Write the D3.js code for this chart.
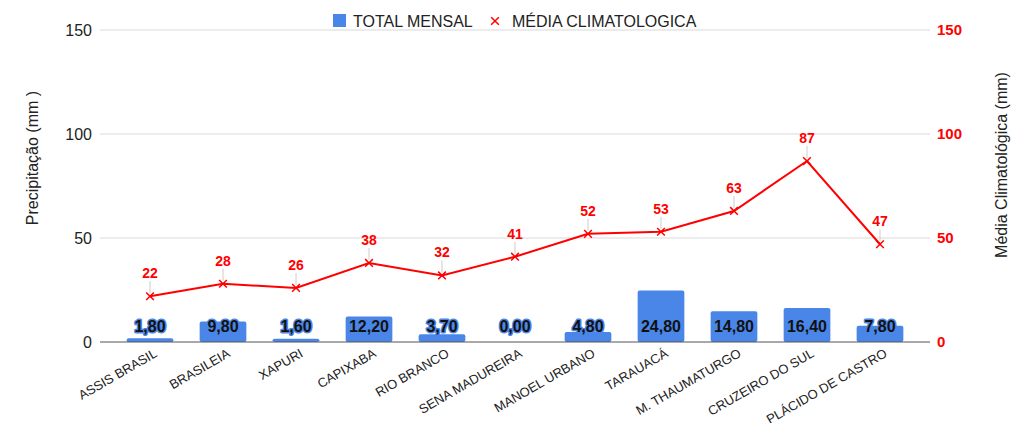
<!DOCTYPE html>
<html>
<head>
<meta charset="utf-8">
<script src="https://cdn.jsdelivr.net/npm/d3@7"></script>
<style>
  body { margin: 0; background: #fff; }
  svg { font-family: Arial, "Liberation Sans", sans-serif; }
</style>
</head>
<body>
<div id="chart"></div>
<script>
// data
var estacoes = ["ASSIS BRASIL", "BRASILEIA", "XAPURI", "CAPIXABA", "RIO BRANCO",
	"SENA MADUREIRA", "MANOEL URBANO", "TARAUACÁ", "M. THAUMATURGO",
	"CRUZEIRO DO SUL", "PLÁCIDO DE CASTRO"];
var totalMensal = [1.8, 9.8, 1.6, 12.2, 3.7, 0.0, 4.8, 24.8, 14.8, 16.4, 7.8];
var mediaClimatologica = [22, 28, 26, 38, 32, 41, 52, 53, 63, 87, 47];
var yTicks = [0, 50, 100, 150];

var width = 1017, height = 423;
var margin = { top: 30, right: 930, bottom: 342, left: 100 };

var svg = d3.select("#chart")
	.append("svg")
	.attr("width", width)
	.attr("height", height);

var x = d3.scaleBand()
	.domain(estacoes)
	.range([margin.left, margin.right])
	.paddingInner(0.36)
	.paddingOuter(0.365);

var y = d3.scaleLinear().domain([0, 150]).range([margin.bottom, margin.top]);
var y2 = d3.scaleLinear().domain([0, 150]).range([margin.bottom, margin.top]);

// gridlines
svg.append("g")
	.selectAll("line")
	.data(yTicks.slice(1))
	.enter().append("line")
	.attr("x1", margin.left).attr("x2", margin.right)
	.attr("y1", function(d) { return y(d); })
	.attr("y2", function(d) { return y(d); })
	.attr("stroke", "#d9d9d9")
	.attr("stroke-width", 1);

// left axis labels
svg.append("g")
	.selectAll("text")
	.data(yTicks)
	.enter().append("text")
	.attr("x", margin.left - 8)
	.attr("y", function(d) { return y(d); })
	.attr("dy", "0.35em")
	.attr("text-anchor", "end")
	.style("font-size", "16px")
	.style("fill", "#222")
	.text(function(d) { return d; });

// right axis labels
svg.append("g")
	.selectAll("text")
	.data(yTicks)
	.enter().append("text")
	.attr("x", margin.right + 7)
	.attr("y", function(d) { return y2(d); })
	.attr("dy", "0.35em")
	.style("font-size", "15px")
	.style("font-weight", "bold")
	.style("fill", "#ff0000")
	.text(function(d) { return d; });

// axis titles
svg.append("text")
	.attr("transform", "translate(38,158) rotate(-90)")
	.attr("text-anchor", "middle")
	.style("font-size", "16px")
	.style("fill", "#222")
	.text("Precipitação (mm )");

svg.append("text")
	.attr("transform", "translate(1007,165) rotate(-90)")
	.attr("text-anchor", "middle")
	.style("font-size", "16px")
	.style("fill", "#222")
	.text("Média Climatológica (mm)");

// bars
svg.append("g")
	.selectAll("rect")
	.data(totalMensal)
	.enter().append("rect")
	.attr("x", function(d, i) { return x(estacoes[i]); })
	.attr("width", x.bandwidth())
	.attr("y", function(d) { return y(d); })
	.attr("height", function(d) { return margin.bottom - y(d); })
	.attr("rx", 2)
	.attr("fill", "#4a86e8");

// baseline
svg.append("line")
	.attr("x1", margin.left).attr("x2", margin.right)
	.attr("y1", margin.bottom).attr("y2", margin.bottom)
	.attr("stroke", "#555")
	.attr("stroke-width", 1.2);

// bar labels (with blue halo)
svg.append("g")
	.selectAll("text")
	.data(totalMensal)
	.enter().append("text")
	.attr("x", function(d, i) { return x(estacoes[i]) + x.bandwidth() / 2; })
	.attr("y", margin.bottom - 16)
	.attr("dy", "0.35em")
	.attr("text-anchor", "middle")
	.style("font-size", "16px")
	.style("font-weight", "bold")
	.style("fill", "#111")
	.style("stroke", "#4a86e8")
	.style("stroke-width", 3)
	.style("paint-order", "stroke")
	.style("stroke-linejoin", "round")
	.text(function(d) { return d.toFixed(2).replace(".", ","); });

// line
var cx = function(i) { return x(estacoes[i]) + x.bandwidth() / 2; };
var line = d3.line()
	.x(function(d, i) { return cx(i); })
	.y(function(d) { return y2(d); });

svg.append("path")
	.datum(mediaClimatologica)
	.attr("d", line)
	.attr("fill", "none")
	.attr("stroke", "#ff0000")
	.attr("stroke-width", 2);

// leader lines
svg.append("g")
	.selectAll("line")
	.data(mediaClimatologica)
	.enter().append("line")
	.attr("x1", function(d, i) { return cx(i); })
	.attr("x2", function(d, i) { return cx(i); })
	.attr("y1", function(d) { return y2(d) - 3; })
	.attr("y2", function(d) { return y2(d) - 15; })
	.attr("stroke", "#ccc")
	.attr("stroke-width", 1);

// x markers
var cross = d3.symbol().type(d3.symbolX).size(40);
svg.append("g")
	.selectAll("path")
	.data(mediaClimatologica)
	.enter().append("path")
	.attr("d", cross)
	.attr("transform", function(d, i) { return "translate(" + cx(i) + "," + y2(d) + ")"; })
	.attr("stroke", "#ff0000")
	.attr("stroke-width", 1.5)
	.attr("fill", "none");

// line labels
svg.append("g")
	.selectAll("text")
	.data(mediaClimatologica)
	.enter().append("text")
	.attr("x", function(d, i) { return cx(i); })
	.attr("y", function(d) { return y2(d) - 23; })
	.attr("dy", "0.35em")
	.attr("text-anchor", "middle")
	.style("font-size", "14px")
	.style("font-weight", "bold")
	.style("fill", "#ff0000")
	.text(function(d) { return d; });

// category labels
svg.append("g")
	.selectAll("text")
	.data(estacoes)
	.enter().append("text")
	.attr("transform", function(d) {
		return "translate(" + (x(d) + x.bandwidth() / 2 + 8) + "," + (margin.bottom + 14) + ") rotate(-30)";
	})
	.attr("text-anchor", "end")
	.style("font-size", "13px")
	.style("fill", "#222")
	.text(function(d) { return d; });

// legend
var legend = svg.append("g");
legend.append("rect")
	.attr("x", 333).attr("y", 14)
	.attr("width", 13).attr("height", 13)
	.attr("fill", "#4a86e8");
legend.append("text")
	.attr("x", 353).attr("y", 21)
	.attr("dy", "0.35em")
	.style("font-size", "16px")
	.style("fill", "#222")
	.text("TOTAL MENSAL");
legend.append("path")
	.attr("d", cross)
	.attr("transform", "translate(495,21)")
	.attr("stroke", "#ff0000")
	.attr("stroke-width", 1.5);
legend.append("text")
	.attr("x", 512).attr("y", 21)
	.attr("dy", "0.35em")
	.style("font-size", "16px")
	.style("fill", "#222")
	.text("MÉDIA CLIMATOLOGICA");
</script>
</body>
</html>
